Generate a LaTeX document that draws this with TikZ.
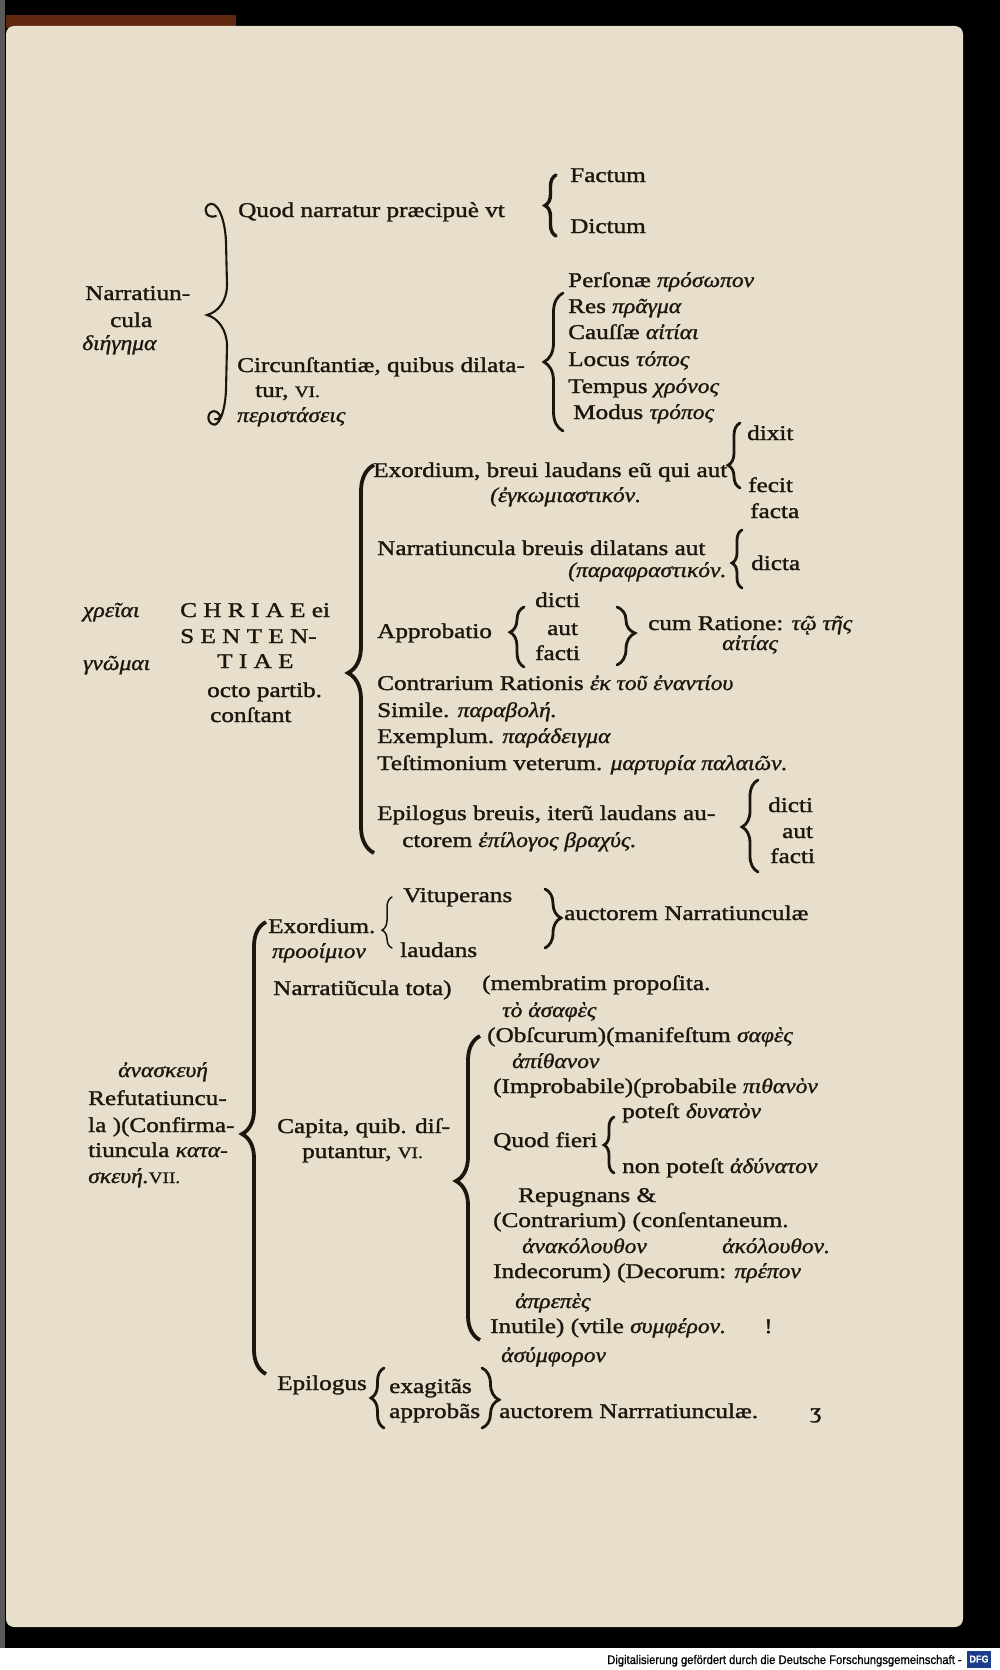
\documentclass[tikz,border=0pt]{standalone}
\usepackage{fontspec}
\usetikzlibrary{decorations.pathreplacing}
\setmainfont{Liberation Serif}[FakeStretch=1.2, FakeBold=1.4]
\newfontfamily\grkfam{Liberation Serif}[FakeStretch=1.12, FakeBold=1.2]
\newfontfamily\footfont{Liberation Sans}[FakeStretch=0.9, FakeBold=0.8]
\newcommand\gk[1]{{\grkfam\itshape\fontsize{21}{22}\selectfont #1}}
\newcommand\smc[1]{{\fontsize{16}{18}\selectfont #1}}
\definecolor{ink}{RGB}{30,22,14}
\definecolor{paper}{RGB}{231,223,204}
\definecolor{stain}{RGB}{95,38,16}
\definecolor{dfgblue}{RGB}{30,60,140}
\tikzset{
  txt/.style={anchor=base west, inner sep=0pt, text=ink, font=\fontsize{21}{24}\selectfont},
  br/.style 2 args={decorate, decoration={brace, amplitude=#1, aspect=#2}, line width=2.8pt, draw=ink, line cap=round},
  bigbr/.style 2 args={decorate, decoration={brace, amplitude=#1, aspect=#2}, line width=3.8pt, draw=ink},
  thinbr/.style 2 args={decorate, decoration={brace, amplitude=#1, aspect=#2}, line width=1.5pt, draw=ink, line cap=round},
}
\begin{document}
\begin{tikzpicture}[x=1pt,y=-1pt]
\useasboundingbox (0,0) rectangle (1000,1670);
% scan background
\fill[black] (0,0) rectangle (1000,1670);
\fill[stain] (6,15) rectangle (236,28);
\fill[gray!70!black] (0,0) rectangle (5,1648);
\fill[paper, rounded corners=8pt] (6,26) rectangle (963,1627);
\fill[white] (0,1648) rectangle (1000,1670);
\node[anchor=base east, inner sep=0pt, font=\footfont\fontsize{12.5}{12.5}\selectfont, text=black] (foot) at (962,1664) {Digitalisierung gefördert durch die Deutsche Forschungsgemeinschaft -};
\node[fill=dfgblue, text=white, font=\footfont\bfseries\fontsize{10}{10}\selectfont, inner sep=1pt, minimum width=24pt, minimum height=17pt] (dfg) at (979,1659) {DFG};

% ---------- Narratiuncula ----------
\node[txt] (nar1) at (85,300) {Narratiun-};
\node[txt] (nar2) at (110,327) {cula};
\node[txt] (nar3) at (82,350) {\gk{διήγημα}};
\node[txt] (quod) at (238,217) {Quod narratur præcipuè vt};
\node[txt] (fact) at (570,182) {Factum};
\node[txt] (dict) at (570,233) {Dictum};
\node[txt] (circ1) at (237,372) {Circunſtantiæ, quibus dilata-};
\node[txt] (circ2) at (255,397) {tur, \smc{VI.}};
\node[txt] (circ3) at (237,422) {\gk{περιστάσεις}};
\node[txt] (pers) at (568,287) {Perſonæ \gk{πρόσωπον}};
\node[txt] (res)  at (568,313) {Res \gk{πρᾶγμα}};
\node[txt] (caus) at (568,339) {Cauſſæ \gk{αἰτίαι}};
\node[txt] (loc)  at (568,366) {Locus \gk{τόπος}};
\node[txt] (temp) at (568,393) {Tempus \gk{χρόνος}};
\node[txt] (mod)  at (573,419) {Modus \gk{τρόπος}};

% Narratiuncula brace (ornamented)
\coordinate (nbT) at (208,205);
\coordinate (nbM) at (207,315);
\coordinate (nbB) at (212,424);
\draw[ink, line width=2.1pt, line cap=round]
  (216,216) .. controls (208,219) and (202,211) .. (nbT)
  .. controls (216,199) and (225,216) .. (226,242) -- (227,285)
  .. controls (227,301) and (218,312) .. (nbM)
  .. controls (218,318) and (227,330) .. (227,346) -- (226,390)
  .. controls (225,414) and (218,428) .. (nbB)
  .. controls (205,420) and (209,408) .. (217,412)
  .. controls (222,415) and (220,421) .. (215,419);
% Factum / Dictum brace
\coordinate (fbT) at (556,175); \coordinate (fbB) at (556,236);
\draw[br={11pt}{0.5}, line width=3.4pt] (fbB) -- (fbT);
% Personae brace
\coordinate (pbT) at (563,293); \coordinate (pbB) at (563,431);
\draw[br={19pt}{0.5}] (pbB) -- (pbT);

% ---------- Chriae ----------
\node[txt] (chr1) at (180,617) {C H R I A E ei};
\node[txt] (chr2) at (180,643) {S E N T E N-};
\node[txt] (chr3) at (217,668) {T I A E};
\node[txt] (chr4) at (207,697) {octo partib.};
\node[txt] (chr5) at (210,722) {conſtant};
\node[txt] (gr1) at (83,617) {\gk{χρεῖαι}};
\node[txt] (gr2) at (83,670) {\gk{γνῶμαι}};

\node[txt] (ex1) at (373,477) {Exordium, breui laudans eũ qui aut};
\node[txt] (ex2) at (490,502) {\gk{(ἐγκωμιαστικόν.}};
\node[txt] (dixit) at (747,440) {dixit};
\node[txt] (fecit) at (748,492) {fecit};
\node[txt] (facta) at (750,518) {facta};
\node[txt] (na1) at (377,555) {Narratiuncula breuis dilatans aut};
\node[txt] (na2) at (568,577) {\gk{(παραφραστικόν.}};
\node[txt] (dicta) at (751,570) {dicta};
\node[txt] (app) at (377,638) {Approbatio};
\node[txt] (dc1) at (535,607) {dicti};
\node[txt] (dc2) at (547,635) {aut};
\node[txt] (dc3) at (535,660) {facti};
\node[txt] (cum) at (648,630) {cum Ratione: \gk{τῷ τῆς}};
\node[txt] (cum2) at (722,650) {\gk{αἰτίας}};
\node[txt] (contr) at (377,690) {Contrarium Rationis \gk{ἐκ τοῦ ἐναντίου}};
\node[txt] (sim) at (377,717) {Simile. \gk{παραβολή.}};
\node[txt] (exe) at (377,743) {Exemplum. \gk{παράδειγμα}};
\node[txt] (test) at (377,770) {Teſtimonium veterum. \gk{μαρτυρία παλαιῶν.}};
\node[txt] (epi1) at (377,820) {Epilogus breuis, iterũ laudans au-};
\node[txt] (epi2) at (402,847) {ctorem \gk{ἐπίλογος βραχύς.}};
\node[txt] (ed1) at (768,812) {dicti};
\node[txt] (ed2) at (782,838) {aut};
\node[txt] (ed3) at (770,863) {facti};

\coordinate (cbT) at (374,465); \coordinate (cbB) at (374,853);
\draw[bigbr={26pt}{0.464}] (cbB) -- (cbT);
\coordinate (dxT) at (740,423); \coordinate (dxB) at (740,488);
\draw[br={12pt}{0.35}] (dxB) -- (dxT);
\coordinate (daT) at (742,530); \coordinate (daB) at (742,588);
\draw[br={10pt}{0.43}] (daB) -- (daT);
\coordinate (apT) at (524,607); \coordinate (apB) at (524,667);
\draw[br={14pt}{0.58}] (apB) -- (apT);
\coordinate (rtT) at (617,607); \coordinate (rtB) at (617,665);
\draw[br={18pt}{0.45}] (rtT) -- (rtB);
\coordinate (edT) at (758,780); \coordinate (edB) at (758,872);
\draw[br={16pt}{0.49}] (edB) -- (edT);

% ---------- Refutatiuncula ----------
\node[txt] (ana) at (118,1077) {\gk{ἀνασκευή}};
\node[txt] (ref1) at (88,1105) {Refutatiuncu-};
\node[txt] (ref2) at (88,1132) {la )(Confirma-};
\node[txt] (ref3) at (88,1157) {tiuncula \gk{κατα-}};
\node[txt] (ref4) at (88,1183) {\gk{σκευή.}\smc{VII.}};

\node[txt] (exo) at (268,933) {Exordium.};
\node[txt] (pro) at (272,958) {\gk{προοίμιον}};
\node[txt] (vit) at (403,902) {Vituperans};
\node[txt] (lau) at (400,957) {laudans};
\node[txt] (auc1) at (564,920) {auctorem Narratiunculæ};
\node[txt] (nt) at (273,995) {Narratiũcula tota)};
\node[txt] (mem) at (482,990) {(membratim propoſita.};
\node[txt] (cap1) at (277,1133) {Capita, quib. diſ-};
\node[txt] (cap2) at (302,1158) {putantur, \smc{VI.}};

\node[txt] (asa) at (502,1017) {\gk{τὸ ἀσαφὲς}};
\node[txt] (obs) at (487,1042) {(Obſcurum)(manifeſtum \gk{σαφὲς}};
\node[txt] (api) at (512,1068) {\gk{ἀπίθανον}};
\node[txt] (imp) at (493,1093) {(Improbabile)(probabile \gk{πιθανὸν}};
\node[txt] (pot) at (622,1118) {poteſt \gk{δυνατὸν}};
\node[txt] (qf) at (493,1147) {Quod fieri};
\node[txt] (npot) at (622,1173) {non poteſt \gk{ἀδύνατον}};
\node[txt] (rep) at (518,1202) {Repugnans \&};
\node[txt] (cont) at (493,1227) {(Contrarium) (conſentaneum.};
\node[txt] (anak) at (522,1253) {\gk{ἀνακόλουθον}};
\node[txt] (akol) at (722,1253) {\gk{ἀκόλουθον.}};
\node[txt] (ind) at (493,1278) {Indecorum) (Decorum: \gk{πρέπον}};
\node[txt] (apr) at (515,1308) {\gk{ἀπρεπὲς}};
\node[txt] (inu) at (490,1333) {Inutile) (vtile \gk{συμφέρον.}};
\node[txt] (excl) at (764,1333) {!};
\node[txt] (asu) at (501,1362) {\gk{ἀσύμφορον}};

\node[txt] (epl) at (277,1390) {Epilogus};
\node[txt] (exa) at (389,1393) {exagitãs};
\node[txt] (apb) at (389,1418) {approbãs};
\node[txt] (auc2) at (499,1418) {auctorem Narrratiunculæ.};
\node[txt] (catch) at (810,1418) {ʒ};

\coordinate (rbT) at (266,922); \coordinate (rbB) at (266,1374);
\draw[bigbr={24pt}{0.531}] (rbB) -- (rbT);
\coordinate (ibT) at (480,1036); \coordinate (ibB) at (480,1340);
\draw[bigbr={24pt}{0.523}] (ibB) -- (ibT);
\coordinate (vbT) at (392,897); \coordinate (vbB) at (392,948);
\draw[thinbr={10pt}{0.35}] (vbB) -- (vbT);
\coordinate (abT) at (545,889); \coordinate (abB) at (545,948);
\draw[br={16pt}{0.49}] (abT) -- (abB);
\coordinate (qbT) at (614,1117); \coordinate (qbB) at (614,1173);
\draw[br={10pt}{0.5}] (qbB) -- (qbT);
\coordinate (ebT) at (384,1368); \coordinate (ebB) at (384,1428);
\draw[br={13pt}{0.5}] (ebB) -- (ebT);
\coordinate (eaT) at (482,1368); \coordinate (eaB) at (482,1428);
\draw[br={17pt}{0.53}] (eaT) -- (eaB);
\end{tikzpicture}
\end{document}
